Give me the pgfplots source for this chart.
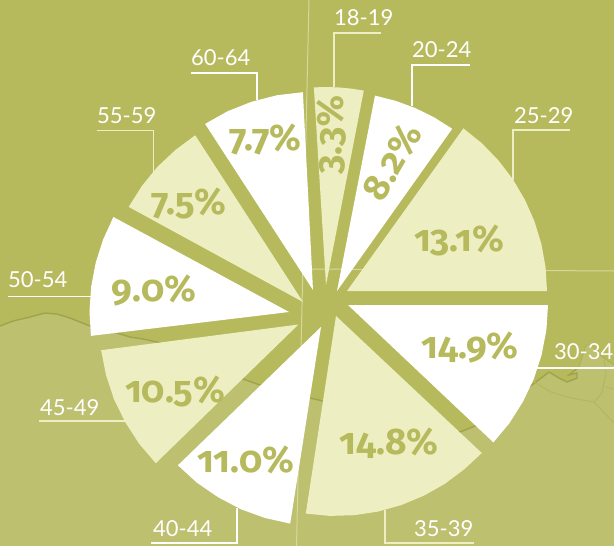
\documentclass[border=0pt]{standalone}
\usepackage{pgfplots}
\usepackage{fontspec}
\pgfplotsset{compat=1.18}
\setmainfont{Lato}
\newfontfamily\pctfont[Numbers=OldStyle]{Fira Sans}
\definecolor{bgtop}{HTML}{B7BA5C}
\definecolor{land}{HTML}{BDC06E}
\definecolor{coast}{HTML}{9FA34C}
\definecolor{region}{HTML}{B3B761}
\definecolor{gridline}{HTML}{D6D89C}
\definecolor{cream}{HTML}{EDEFC3}
\definecolor{pct}{HTML}{B7BA5C}
\newcommand{\agelabel}[2]{\node[anchor=base west,inner sep=0pt,text=white,font=\fontsize{22}{22}\selectfont] at (axis cs:#1) {#2};}
\newcommand{\pctlabel}[3][0]{\node[anchor=center,inner sep=0pt,rotate=#1,text=pct,font=\pctfont\bfseries\fontsize{37}{37}\selectfont] at (axis cs:#2) {#3};}
\begin{document}
\begin{tikzpicture}
\begin{axis}[
  width=614pt, height=546pt, scale only axis,
  xmin=0, xmax=614, ymin=0, ymax=546, y dir=reverse,
  hide axis, clip=true,
  every axis plot/.append style={line join=miter},
]
% background
\addplot[fill=bgtop,draw=none] coordinates {(0,0)(614,0)(614,546)(0,546)} --cycle;
% land below the coast
\addplot[fill=land,draw=none] coordinates {
  (0,326)(13,321)(30,317)(45,313)(57,314)(70,318)(90,326)(117,333)(130,337)(143,339)(157,342)
  (200,360)(243,379)(257,384)(310,398)(323,401)(400,420)(460,432)(475,426)(532,385)
  (549,372)(559,378)(567,382)(577,378)(577,373)(569,375)(579,367)(586,345)(592,345)(597,353)(614,365)
  (614,546)(0,546)} --cycle;
% coast
\addplot[coast,line width=1.4pt,no marks] coordinates {
  (0,326)(13,321)(30,317)(45,313)(57,314)(70,318)(90,326)(117,333)(130,337)(143,339)(157,342)
  (200,360)(243,379)(257,384)(310,398)(323,401)(400,420)(460,432)(475,426)(532,385)
  (549,372)(559,378)(567,382)(577,378)(577,373)(569,375)(579,367)};
% region borders
\addplot[region,line width=1pt,no marks] coordinates {(534,382)(551,392)(571,398)(594,402)(602,393)(606,373)(604,360)};
\addplot[region,line width=1pt,no marks] coordinates {(594,402)(614,423)};
\addplot[region,line width=1pt,no marks] coordinates {(606,387)(614,389)};
\addplot[coast!60!land,line width=0.8pt,no marks] coordinates {(579,367)(586,345)(592,345)(597,353)(614,365)};
% light lines behind the pie
\addplot[gridline,line width=1pt,no marks] coordinates {(309,0)(296.5,546)};
\addplot[gridline,line width=1pt,no marks] coordinates {(305,269)(614,271)};
% wedges
% 18-19
\addplot[fill=cream,draw=none] coordinates {(326,285)(313.9,87.4)(326,87)(338.4,87.4)(351.1,88.6)(363.8,90.6)} --cycle;
% 20-24
\addplot[fill=white,draw=none] coordinates {(337,291)(375,95.6)(395.5,100.8)(415.4,108.1)(434.4,117.5)(452.2,128.8)} --cycle;
% 25-29
\addplot[fill=cream,draw=none] coordinates {(347,291)(463.4,128.4)(481.8,143.2)(498.4,160.4)(512.8,179.2)(524.8,199.6)(534.4,221.2)(541.4,244)(545.6,267.4)(547,291)} --cycle;
% 30-34
\addplot[fill=white,draw=none] coordinates {(348,305)(548,305)(546.4,330)(541.6,355)(533.8,379)(523,401.6)(509.4,423.2)(493.4,442.4)} --cycle;
% 35-39
\addplot[fill=cream,draw=none] coordinates {(336,316)(481.8,453)(464.2,469.4)(444.6,484)(423.6,495.8)(401.4,505)(378,511.6)(354.2,515.2)(329.8,515.9)(305.8,513.6)} --cycle;
% 40-44
\addplot[fill=white,draw=none] coordinates {(321,327)(290.2,523.6)(265.1,518)(241,509.3)(217.9,497.1)(196.8,482.6)(177.9,465.3)} --cycle;
% 45-49
\addplot[fill=cream,draw=none] coordinates {(298.5,324.5)(155.8,463.2)(139.1,443.7)(125.4,422.4)(114,399.3)(106.1,375.3)(101.1,350.2)} --cycle;
% 50-54
\addplot[fill=white,draw=none] coordinates {(289,312)(90.9,335.9)(89.5,311.4)(91.1,287)(95.7,262.7)(103.1,239.6)(113.4,217)} --cycle;
% 55-59
\addplot[fill=cream,draw=none] coordinates {(303,302)(128.7,206.9)(141.8,186.1)(157.5,166.8)(175.4,150)(195.2,135.3)} --cycle;
% 60-64
\addplot[fill=white,draw=none] coordinates {(313,290)(205.1,123.9)(227.7,111.2)(251.8,101.7)(277.2,95.2)(302.9,92.2)} --cycle;
% leader lines
\addplot[cream,line width=1.9pt,no marks] coordinates {(333.6,87)(333.6,33.3)(381,33.3)};
\addplot[white,line width=1.9pt,no marks] coordinates {(412,106)(412,65)(470,65)};
\addplot[cream,line width=1.9pt,no marks] coordinates {(513.3,180)(513.3,130)(570,130)};
\addplot[white,line width=1.9pt,no marks] coordinates {(530,368)(614,368)};
\addplot[cream,line width=1.9pt,no marks] coordinates {(385,510)(385,543)(474,543)};
\addplot[white,line width=1.9pt,no marks] coordinates {(236.7,508)(236.7,543)(151,543)};
\addplot[cream,line width=1.9pt,no marks] coordinates {(39,421)(125,421)};
\addplot[white,line width=1.9pt,no marks] coordinates {(8,296.5)(92,296.5)};
\addplot[cream,line width=1.9pt,no marks] coordinates {(96.7,130.5)(153.5,130.5)(153.5,173)};
\addplot[white,line width=1.9pt,no marks] coordinates {(190.7,73.3)(256.7,73.3)(256.7,100)};
% age labels
\agelabel{334,26}{18-19}
\agelabel{412,57}{20-24}
\agelabel{514,123}{25-29}
\agelabel{554,359}{30-34}
\agelabel{414,536}{35-39}
\agelabel{153,536}{40-44}
\agelabel{40,415}{45-49}
\agelabel{8,287}{50-54}
\agelabel{97,123}{55-59}
\agelabel{191,65}{60-64}
% shares
\pctlabel[88]{331,135}{3.3\%}
\pctlabel[60]{392,162}{8.2\%}
\pctlabel{459,240}{13.1\%}
\pctlabel{470,348}{14.9\%}
\pctlabel{389,443}{14.8\%}
\pctlabel{246,459.5}{11.0\%}
\pctlabel{175,391}{10.5\%}
\pctlabel{154,291}{9.0\%}
\pctlabel{189,203}{7.5\%}
\pctlabel{265.5,139}{7.7\%}
\end{axis}
\end{tikzpicture}
\end{document}
